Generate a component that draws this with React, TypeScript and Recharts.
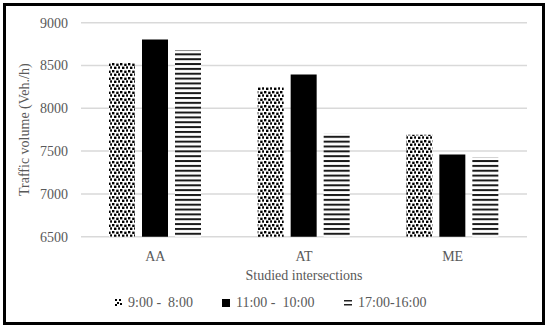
import React from 'react';
import { BarChart, Bar, XAxis, YAxis, CartesianGrid, Legend, Label } from 'recharts';

const categories = ['AA', 'AT', 'ME'];
const series1 = [8530, 8250, 7690]; // 9:00 - 8:00
const series2 = [8805, 8395, 7460]; // 11:00 - 10:00
const series3 = [8680, 7710, 7430]; // 17:00-16:00
const seriesNames = ['9:00 -  8:00', '11:00 -  10:00', '17:00-16:00'];
const yTicks = [6500, 7000, 7500, 8000, 8500, 9000];

const data = categories.map((c, i) => ({ name: c, s1: series1[i], s2: series2[i], s3: series3[i] }));

const FONT = '"Liberation Serif", "Times New Roman", serif';
const TXT = '#595959';

const DotIcon = () => (
  <svg width={7} height={7} style={{ display: 'inline-block', verticalAlign: 'middle' }}>
    <rect x={0} y={0} width={2} height={2} fill="#000" />
    <rect x={4} y={0} width={2} height={2} fill="#000" />
    <rect x={2} y={3} width={2} height={2} fill="#000" />
    <rect x={0} y={5} width={2} height={2} fill="#000" />
    <rect x={5} y={4} width={2} height={2} fill="#000" />
  </svg>
);
const SquareIcon = () => (
  <svg width={8} height={8} style={{ display: 'inline-block', verticalAlign: 'middle' }}>
    <rect x={0} y={0} width={8} height={8} fill="#000" />
  </svg>
);
const StripeIcon = () => (
  <svg width={8} height={8} style={{ display: 'inline-block', verticalAlign: 'middle' }}>
    <rect x={0} y={1} width={8} height={1.5} fill="#222" />
    <rect x={0} y={5} width={8} height={1.5} fill="#222" />
  </svg>
);

const renderLegend = () => {
  const icons = [<DotIcon />, <SquareIcon />, <StripeIcon />];
  const lefts = [115, 222, 344];
  return (
    <div style={{ position: 'relative', width: 550, height: 20, fontFamily: FONT, fontSize: 14, color: TXT }}>
      {seriesNames.map((n, i) => (
        <div key={n} style={{ position: 'absolute', left: lefts[i], top: 0, whiteSpace: 'pre', lineHeight: '18px' }}>
          {icons[i]}
          <span style={{ marginLeft: 6, verticalAlign: 'middle' }}>{n}</span>
        </div>
      ))}
    </div>
  );
};

export default function App() {
  return (
    <div style={{ position: 'absolute', left: 0, top: 0, width: 550, height: 328, background: '#fff' }}>
      <div
        style={{
          position: 'absolute',
          left: 3,
          top: 3,
          width: 542,
          height: 322,
          border: '3px solid #000',
          boxSizing: 'border-box',
          pointerEvents: 'none',
          zIndex: 2,
        }}
      />
      <BarChart
        width={550}
        height={328}
        data={data}
        margin={{ top: 22.7, right: 23, bottom: 48.3, left: 0 }}
        barSize={26}
        barGap={7}
      >
        <defs>
          <pattern id="dots" patternUnits="userSpaceOnUse" width={8} height={7}>
            <rect x={0} y={0} width={8} height={7} fill="#fff" />
            <rect x={0} y={0} width={2.4} height={2.4} fill="#000" />
            <rect x={4.2} y={0.6} width={2.4} height={2.4} fill="#000" />
            <rect x={2} y={3.6} width={2.4} height={2.4} fill="#000" />
            <rect x={6.1} y={3.3} width={2.4} height={2.4} fill="#000" />
          </pattern>
          <pattern id="stripes" patternUnits="userSpaceOnUse" width={10} height={4.85}>
            <rect x={0} y={0} width={10} height={4.85} fill="#fff" />
            <rect x={0} y={0} width={10} height={2} fill="#1a1a1a" />
          </pattern>
        </defs>
        <CartesianGrid vertical={false} stroke="#d9d9d9" strokeWidth={1.5} />
        <XAxis
          dataKey="name"
          axisLine={false}
          tickLine={false}
          tickMargin={8}
          height={43}
          tick={{ fill: TXT, fontSize: 14, fontFamily: FONT }}
        >
          <Label value="Studied intersections" position="insideBottom" offset={0} fill={TXT} fontSize={14} fontFamily={FONT} />
        </XAxis>
        <YAxis
          domain={[6500, 9000]}
          ticks={yTicks}
          axisLine={false}
          tickLine={false}
          width={81}
          tickMargin={7}
          tick={{ fill: TXT, fontSize: 14, fontFamily: FONT }}
        >
          <Label
            content={(props: any) => {
              const vb = props.viewBox || {};
              const cy = vb.y + vb.height / 2;
              return (
                <text
                  x={25}
                  y={cy}
                  transform={`rotate(-90 25 ${cy})`}
                  textAnchor="middle"
                  dominantBaseline="central"
                  fill={TXT}
                  fontSize={14}
                  fontFamily={FONT}
                >
                  Traffic volume (Veh./h)
                </text>
              );
            }}
          />
        </YAxis>
        <Legend
          layout="horizontal"
          verticalAlign="middle"
          align="center"
          content={renderLegend}
          wrapperStyle={{ top: 293, left: 0, width: 550 }}
        />
        <Bar dataKey="s1" name={seriesNames[0]} fill="url(#dots)" isAnimationActive={false} />
        <Bar dataKey="s2" name={seriesNames[1]} fill="#000" isAnimationActive={false} />
        <Bar dataKey="s3" name={seriesNames[2]} fill="url(#stripes)" isAnimationActive={false} />
      </BarChart>
    </div>
  );
}
